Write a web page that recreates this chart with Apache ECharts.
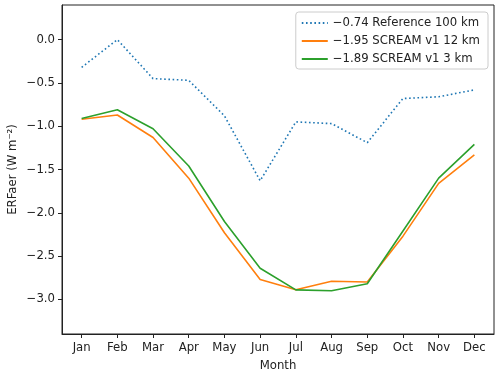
<!DOCTYPE html>
<html>
<head>
    <meta charset="UTF-8">
    <script src="https://cdn.jsdelivr.net/npm/echarts@6/dist/echarts.min.js"></script>
    <style>
        body, html { margin: 0; padding: 0; background: #fff; }
        #main { width: 500px; height: 375px; }
    </style>
</head>
<body>
<div id="main"></div>
<script>
    // monthly ERFaer values
    const months = ['Jan', 'Feb', 'Mar', 'Apr', 'May', 'Jun', 'Jul', 'Aug', 'Sep', 'Oct', 'Nov', 'Dec'];
    const reference100 = [-0.32, 0.0, -0.45, -0.47, -0.88, -1.63, -0.95, -0.97, -1.19, -0.68, -0.66, -0.58];
    const scream12 = [-0.92, -0.87, -1.13, -1.60, -2.23, -2.77, -2.89, -2.79, -2.80, -2.27, -1.66, -1.33];
    const scream3 = [-0.91, -0.81, -1.03, -1.46, -2.10, -2.64, -2.89, -2.90, -2.82, -2.21, -1.60, -1.21];
    const seriesNames = ['\u22120.74 Reference 100 km', '\u22121.95 SCREAM v1 12 km', '\u22121.89 SCREAM v1 3 km'];
    const yTicks = [0, -0.5, -1.0, -1.5, -2.0, -2.5, -3.0];

    const font = 'DejaVu Sans';
    const fs = 11.7;
    const toPairs = arr => arr.map((v, i) => [i, v]);
    const fmtNum = v => (v < 0 ? '\u2212' : '') + Math.abs(v).toFixed(1);

    var chart = echarts.init(document.getElementById('main'));

    var option = {
        animation: false,
        grid: {
            left: 62, right: 6, top: 5, bottom: 41,
            outerBoundsMode: 'none',
            show: true, borderColor: '#222', borderWidth: 1, backgroundColor: 'transparent'
        },
        legend: {
            orient: 'vertical',
            right: 12, top: 12,
            itemWidth: 26, itemHeight: 8, itemGap: 6,
            padding: [5, 8, 4, 5],
            backgroundColor: '#fff',
            borderColor: '#ccc', borderWidth: 1, borderRadius: 3,
            itemStyle: { opacity: 0 },
            textStyle: { fontFamily: font, fontSize: fs, color: '#222' },
            data: seriesNames
        },
        xAxis: {
            type: 'value',
            min: -0.55, max: 11.55,
            name: 'Month', nameLocation: 'middle', nameGap: 26,
            nameTextStyle: { fontFamily: font, fontSize: fs, color: '#222' },
            splitLine: { show: false },
            axisLine: { onZero: false, lineStyle: { color: '#222' } },
            axisTick: { show: true, length: 4, customValues: months.map((m, i) => i), lineStyle: { color: '#222' } },
            axisLabel: {
                customValues: months.map((m, i) => i),
                formatter: v => months[Math.round(v)],
                fontFamily: font, fontSize: fs, color: '#222', margin: 8
            }
        },
        yAxis: {
            type: 'value',
            min: -3.4, max: 0.4,
            name: 'ERFaer (W m\u207B\u00B2)', nameLocation: 'middle', nameGap: 43,
            nameMoveOverlap: false,
            nameTextStyle: { fontFamily: font, fontSize: fs, color: '#222' },
            splitLine: { show: false },
            axisLine: { show: true, onZero: false, lineStyle: { color: '#222' } },
            axisTick: { show: true, length: 4, customValues: yTicks, lineStyle: { color: '#222' } },
            axisLabel: {
                customValues: yTicks,
                formatter: fmtNum,
                fontFamily: font, fontSize: fs, color: '#222', margin: 7
            }
        },
        series: [
            {
                name: seriesNames[0], type: 'line', data: toPairs(reference100),
                symbol: 'none', color: '#1f77b4',
                lineStyle: { width: 1.6, type: [1.6, 2.6], color: '#1f77b4' }
            },
            {
                name: seriesNames[1], type: 'line', data: toPairs(scream12),
                symbol: 'none', color: '#ff7f0e',
                lineStyle: { width: 1.6, color: '#ff7f0e' }
            },
            {
                name: seriesNames[2], type: 'line', data: toPairs(scream3),
                symbol: 'none', color: '#2ca02c',
                lineStyle: { width: 1.6, color: '#2ca02c' }
            }
        ]
    };

    chart.setOption(option);
</script>
</body>
</html>
